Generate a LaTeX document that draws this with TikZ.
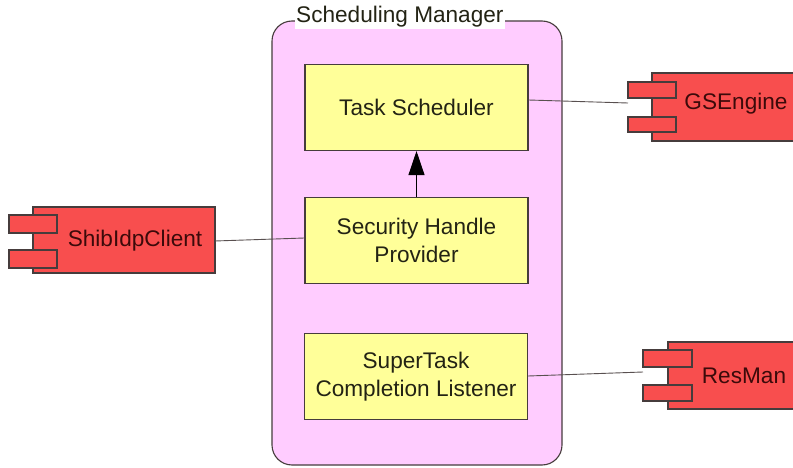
\documentclass[tikz,border=0pt]{standalone}
\usepackage{fontspec}
\setmainfont{Liberation Sans}
\usetikzlibrary{arrows.meta}
\definecolor{pkfill}{RGB}{255,204,255}
\definecolor{ylfill}{RGB}{255,255,153}
\definecolor{rdfill}{RGB}{248,78,78}
\definecolor{edge}{RGB}{70,60,60}
\definecolor{rdtext}{RGB}{60,10,10}
\definecolor{dktext}{RGB}{35,35,20}
\tikzset{
  x=1pt, y=-1pt,
  every node/.style={font=\fontsize{22.6}{28}\selectfont, align=center},
  part/.style={draw=edge, line width=1.1pt, fill=ylfill, text=dktext, minimum width=223pt, minimum height=86pt, inner sep=0pt},
  comp/.style={draw=edge, line width=1.1pt, fill=rdfill},
  link/.style={draw=edge!90, line width=0.9pt},
}
\begin{document}
\begin{tikzpicture}
\useasboundingbox (0,0) rectangle (793,468);
\fill[white] (0,0) rectangle (793,468);

% container
\draw[draw=edge, line width=1.1pt, fill=pkfill, rounded corners=20pt] (272,21) rectangle (562,465);
\node[fill=white, inner sep=1pt, anchor=west, text=dktext] (title) at (295,17) {Scheduling Manager};

% parts inside the manager
\node[part] (ts) at (416.5,107.5) {Task Scheduler};
\node[part] (shp) at (416.5,240.5) {Security Handle\\Provider};
\node[part] (stcl) at (416,376.5) {SuperTask\\Completion Listener};

\draw[link, -{Triangle[width=16pt,length=24pt]}, black] (shp.north) -- (ts.south);

% external components
% GSEngine
\draw[comp] (652,73) rectangle (797,141);
\draw[comp] (628,82) rectangle (676,98);
\draw[comp] (628,117) rectangle (676,132);
\coordinate (gsport) at (628,103);
\node[text=rdtext] (gs) at (736,104) {GSEngine};

% ShibIdpClient
\draw[comp] (33,207) rectangle (215,273);
\draw[comp] (9,215) rectangle (57,233);
\draw[comp] (9,250) rectangle (57,268);
\coordinate (shibport) at (215,241);
\node[text=rdtext] (shib) at (135,241) {ShibIdpClient};

% ResMan
\draw[comp] (668,342) rectangle (797,409);
\draw[comp] (643,350) rectangle (692,367);
\draw[comp] (643,385) rectangle (692,401);
\coordinate (rmport) at (643,372);
\node[text=rdtext] (rm) at (744,376) {ResMan};

% connectors
\draw[link] (ts.east |- 0,100) -- (gsport);
\draw[link] (shibport) -- (shp.west |- 0,238);
\draw[link] (stcl.east |- 0,376) -- (rmport);
\end{tikzpicture}
\end{document}
